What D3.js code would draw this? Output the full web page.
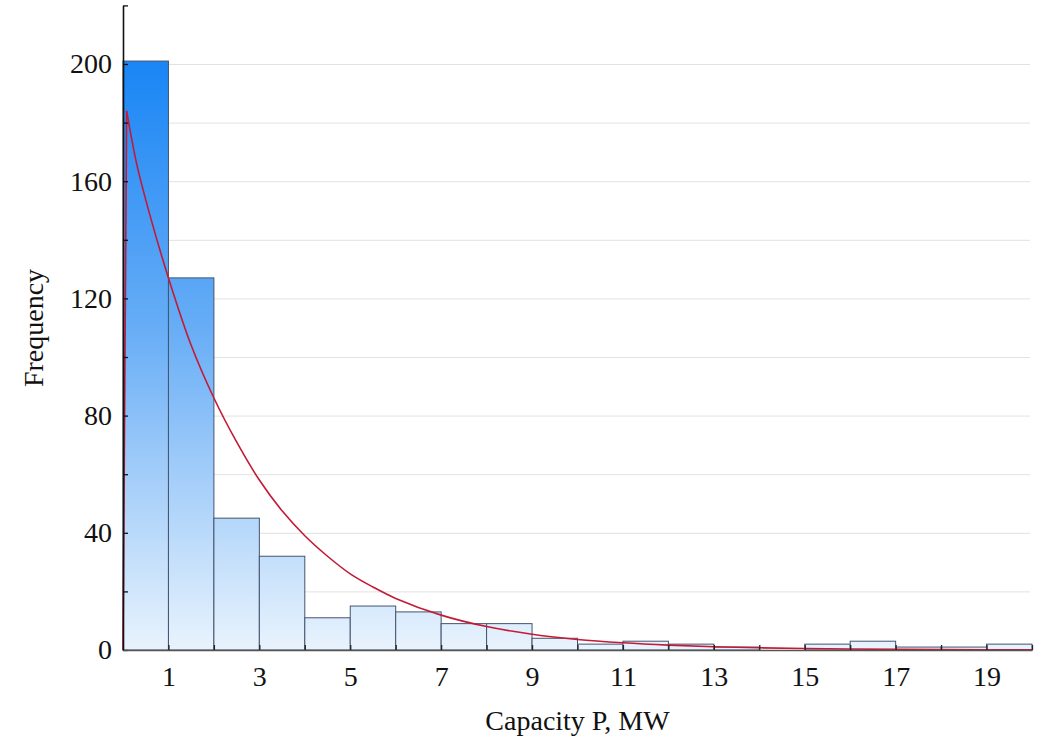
<!DOCTYPE html>
<html>
<head>
<meta charset="utf-8">
<script src="https://cdn.jsdelivr.net/npm/d3@7"></script>
<style>
  body { margin: 0; background: #fff; }
  svg { display: block; }
  .axis text { font-family: "Liberation Serif", "Times New Roman", serif; font-size: 28px; fill: #111; }
  .title { font-family: "Liberation Serif", "Times New Roman", serif; font-size: 28px; fill: #111; }
</style>
</head>
<body>
<svg id="chart" width="1043" height="742"></svg>
<script>
// Histogram bins (lower edge, MW) and counts
const binStart = [0, 1, 2, 3, 4, 5, 6, 7, 8, 9, 10, 11, 12, 13, 14, 15, 16, 17, 18, 19]
const freq = [201, 127, 45, 32, 11, 15, 13, 9, 9, 4, 2, 3, 2, 1, 0, 2, 3, 1, 1, 2]

// Fitted density curve (first two = steep rise at 0)
const curveX = [0, 0.08, 0.3, 0.6, 1, 1.5, 2, 2.5, 3, 3.5, 4, 4.5, 5, 5.5, 6, 7, 8, 9, 10, 11, 12, 13, 14, 15, 16, 17, 18, 19, 20]
const curveY = [0, 184, 166, 148, 127, 104, 86, 71, 58, 47.5, 39, 32, 26, 21.5, 17.6, 11.9, 8, 5.4, 3.6, 2.45, 1.65, 1.1, 0.75, 0.5, 0.34, 0.23, 0.15, 0.1, 0.07]

const yTickLabels = [0, 40, 80, 120, 160, 200]
const xTickLabels = [1, 3, 5, 7, 9, 11, 13, 15, 17, 19]

const svg = d3.select("#chart")

const margin = { left: 123, right: 1032, top: 5.4, bottom: 650 }

const x = d3.scaleLinear().domain([0, 20]).range([margin.left, margin.right])
const y = d3.scaleLinear().domain([0, 220]).range([margin.bottom, margin.top])

// gradient across the plot in user space
const grad = svg.append("defs").append("linearGradient")
  .attr("id", "barFill")
  .attr("gradientUnits", "userSpaceOnUse")
  .attr("x1", 0).attr("x2", 0)
  .attr("y1", y(200)).attr("y2", y(0))
grad.append("stop").attr("offset", 0).attr("stop-color", "#1a86f5")
grad.append("stop").attr("offset", 0.45).attr("stop-color", "#67adf6")
grad.append("stop").attr("offset", 1).attr("stop-color", "#e9f3fd")

// gridlines
svg.append("g")
  .selectAll("line")
  .data(d3.range(20, 201, 20))
  .enter()
  .append("line")
  .attr("x1", x(0))
  .attr("x2", x(20) - 2)
  .attr("y1", d => y(d) + 0.5)
  .attr("y2", d => y(d) + 0.5)
  .attr("stroke", "#e2e2e2")
  .attr("stroke-width", 1)

// bars
svg.append("g")
  .selectAll("rect")
  .data(freq)
  .enter()
  .append("rect")
  .attr("x", (d, i) => x(binStart[i]))
  .attr("width", (d, i) => x(binStart[i] + 1) - x(binStart[i]))
  .attr("y", d => y(d))
  .attr("height", d => y(0) - y(d))
  .attr("fill", "url(#barFill)")
  .attr("stroke", "#43546f")
  .attr("stroke-width", 1)

// fitted curve: straight rise to the peak, smooth decay after it
const pts = curveX.map((cx, i) => [x(cx), y(curveY[i])])
const rise = d3.line().curve(d3.curveLinear)
const decay = d3.line().curve(d3.curveCatmullRom.alpha(0.5))
svg.append("path")
  .attr("d", rise(pts.slice(0, 2)))
  .attr("fill", "none")
  .attr("stroke", "#c41a35")
  .attr("stroke-width", 1.6)
svg.append("path")
  .attr("d", decay(pts.slice(1)))
  .attr("fill", "none")
  .attr("stroke", "#c41a35")
  .attr("stroke-width", 1.6)

// y axis
const yAxis = d3.axisLeft(y)
  .tickValues(d3.range(0, 221, 20))
  .tickSizeInner(-5)
  .tickSizeOuter(0)
  .tickPadding(11)
  .tickFormat(d => (yTickLabels.includes(d) ? d : ""))
const yG = svg.append("g")
  .attr("class", "axis")
  .attr("transform", `translate(${margin.left},0)`)
  .call(yAxis)
yG.select(".domain").attr("stroke", "#111").attr("stroke-width", 1.6)
yG.selectAll(".tick line").attr("stroke", "#111").attr("stroke-width", 1.3)

// x axis
const xAxis = d3.axisBottom(x)
  .tickValues(d3.range(1, 21, 1))
  .tickSizeInner(-5)
  .tickSizeOuter(0)
  .tickPadding(16)
  .tickFormat(d => (xTickLabels.includes(d) ? d : ""))
const xG = svg.append("g")
  .attr("class", "axis")
  .attr("transform", `translate(0,${margin.bottom})`)
  .call(xAxis)
xG.select(".domain").attr("stroke", "#555").attr("stroke-width", 1.6)
xG.selectAll(".tick line").attr("stroke", "#222").attr("stroke-width", 1.3)

// titles
svg.append("text")
  .attr("class", "title")
  .attr("x", (margin.left + margin.right) / 2)
  .attr("y", 730)
  .attr("text-anchor", "middle")
  .text("Capacity P, MW")

svg.append("text")
  .attr("class", "title")
  .attr("text-anchor", "middle")
  .attr("transform", "translate(43,328) rotate(-90)")
  .text("Frequency")
</script>
</body>
</html>
